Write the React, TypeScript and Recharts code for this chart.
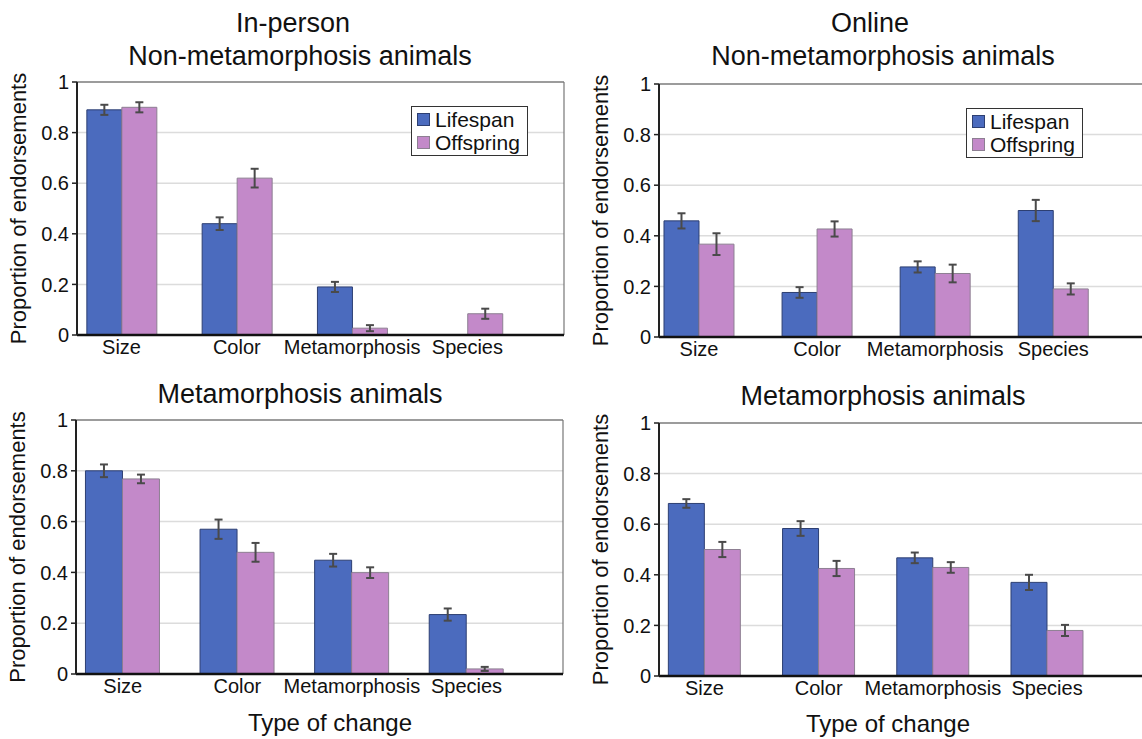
import React from "react";
import {
  BarChart,
  Bar,
  XAxis,
  YAxis,
  CartesianGrid,
  ErrorBar,
  ReferenceLine,
  Legend,
} from "recharts";

const categories = ["Size", "Color", "Metamorphosis", "Species"];
const yTicks = [0, 0.2, 0.4, 0.6, 0.8, 1];
const seriesNames = ["Lifespan", "Offspring"];

// In-person, non-metamorphosis animals
const inPersonNonMetaLifespan = [0.89, 0.44, 0.19, null];
const inPersonNonMetaLifespanErr = [0.02, 0.025, 0.02, null];
const inPersonNonMetaOffspring = [0.9, 0.62, 0.027, 0.084];
const inPersonNonMetaOffspringErr = [0.02, 0.037, 0.012, 0.02];

// Online, non-metamorphosis animals
const onlineNonMetaLifespan = [0.459, 0.176, 0.277, 0.5];
const onlineNonMetaLifespanErr = [0.03, 0.021, 0.022, 0.042];
const onlineNonMetaOffspring = [0.367, 0.427, 0.251, 0.19];
const onlineNonMetaOffspringErr = [0.043, 0.03, 0.035, 0.022];

// In-person, metamorphosis animals
const inPersonMetaLifespan = [0.8, 0.57, 0.448, 0.234];
const inPersonMetaLifespanErr = [0.025, 0.038, 0.025, 0.024];
const inPersonMetaOffspring = [0.768, 0.479, 0.399, 0.02];
const inPersonMetaOffspringErr = [0.017, 0.037, 0.021, 0.008];

// Online, metamorphosis animals
const onlineMetaLifespan = [0.682, 0.583, 0.467, 0.37];
const onlineMetaLifespanErr = [0.017, 0.029, 0.021, 0.03];
const onlineMetaOffspring = [0.5, 0.425, 0.429, 0.18];
const onlineMetaOffspringErr = [0.03, 0.03, 0.021, 0.022];

const FONT = '"Liberation Sans", Arial, Helvetica, sans-serif';
const BLUE = "#4b6bbe";
const BLUE_EDGE = "#2d3f72";
const PURPLE = "#c389c9";
const PURPLE_EDGE = "#8d7f92";
const ERR = "#4a4a4a";
const INK = "#111";

function buildRows(
  life: (number | null)[],
  lifeErr: (number | null)[],
  off: (number | null)[],
  offErr: (number | null)[]
) {
  return categories.map((name, i) => ({
    pos: i,
    name,
    lifespan: life[i],
    lifespanErr: lifeErr[i],
    offspring: off[i],
    offspringErr: offErr[i],
  }));
}

function LegendBox() {
  return (
    <div
      style={{
        border: "1.5px solid #333",
        background: "#fff",
        padding: "1px 7px 1px 5px",
        fontFamily: FONT,
        fontSize: 21,
        color: INK,
        lineHeight: "23px",
        whiteSpace: "nowrap",
      }}
    >
      {seriesNames.map((n, i) => (
        <div key={n} style={{ display: "flex", alignItems: "center" }}>
          <span
            style={{
              display: "inline-block",
              width: 13,
              height: 13,
              boxSizing: "border-box",
              background: i === 0 ? BLUE : PURPLE,
              border: `1px solid ${i === 0 ? BLUE_EDGE : PURPLE_EDGE}`,
              marginRight: 5,
            }}
          />
          {n}
        </div>
      ))}
    </div>
  );
}

type PanelProps = {
  left: number;
  axisX: number;
  plotTop: number;
  plotBottom: number;
  xMin: number;
  xMax: number;
  barSize: number;
  rows: ReturnType<typeof buildRows>;
  legend?: { left: number; top: number };
};

const PLOT_W = 487;
const M_TOP = 20;
const M_RIGHT = 20;
const X_AXIS_H = 45;

function Panel({ left, axisX, plotTop, plotBottom, xMin, xMax, barSize, rows, legend }: PanelProps) {
  const yAxisW = axisX - left;
  const width = yAxisW + PLOT_W + M_RIGHT;
  const height = M_TOP + (plotBottom - plotTop) + X_AXIS_H;
  return (
    <div style={{ position: "absolute", left, top: plotTop - M_TOP }}>
      <BarChart
        width={width}
        height={height}
        data={rows}
        margin={{ top: M_TOP, right: M_RIGHT, bottom: 0, left: 0 }}
        barGap={0}
      >
        <CartesianGrid vertical={false} stroke="#dcdcdc" strokeWidth={1.5} />
        <XAxis
          dataKey="pos"
          type="number"
          domain={[xMin, xMax]}
          ticks={[0, 1, 2, 3]}
          interval={0}
          tickFormatter={(i: number) => categories[i]}
          tickLine={false}
          tickSize={0}
          tickMargin={5}
          height={X_AXIS_H}
          axisLine={{ stroke: INK, strokeWidth: 2.5 }}
          tick={{ fontSize: 20, fill: INK, fontFamily: FONT }}
        />
        <YAxis
          domain={[0, 1]}
          ticks={yTicks}
          width={yAxisW}
          tickSize={5}
          tickMargin={3}
          axisLine={{ stroke: "#222", strokeWidth: 2 }}
          tickLine={{ stroke: "#222", strokeWidth: 1.5 }}
          tick={{ fontSize: 20, fill: INK, fontFamily: FONT }}
          label={{
            value: "Proportion of endorsements",
            angle: -90,
            position: "insideLeft",
            offset: yAxisW - 59,
            style: { textAnchor: "middle", fontSize: 22, fill: INK, fontFamily: FONT },
          }}
        />
        <ReferenceLine y={1} stroke="#555" strokeWidth={1.2} />
        <ReferenceLine x={xMax} stroke="#777" strokeWidth={1.2} />
        <Bar
          dataKey="lifespan"
          name="Lifespan"
          fill={BLUE}
          stroke={BLUE_EDGE}
          strokeWidth={1}
          barSize={barSize}
          isAnimationActive={false}
        >
          <ErrorBar dataKey="lifespanErr" width={4} stroke={ERR} strokeWidth={2} direction="y" />
        </Bar>
        <Bar
          dataKey="offspring"
          name="Offspring"
          fill={PURPLE}
          stroke={PURPLE_EDGE}
          strokeWidth={1}
          barSize={barSize}
          isAnimationActive={false}
        >
          <ErrorBar dataKey="offspringErr" width={4} stroke={ERR} strokeWidth={2} direction="y" />
        </Bar>
        {legend && (
          <Legend
            layout="vertical"
            align="center"
            verticalAlign="middle"
            wrapperStyle={{ left: legend.left, top: legend.top, width: "auto" }}
            content={() => <LegendBox />}
          />
        )}
      </BarChart>
    </div>
  );
}

function Title({ text, cx, baseline, size = 27 }: { text: string; cx: number; baseline: number; size?: number }) {
  return (
    <div
      style={{
        position: "absolute",
        left: cx - 300,
        width: 600,
        top: baseline - 0.8465 * size,
        textAlign: "center",
        fontFamily: FONT,
        fontSize: size,
        lineHeight: `${size}px`,
        color: INK,
        whiteSpace: "nowrap",
      }}
    >
      {text}
    </div>
  );
}

export default function App() {
  return (
    <div
      style={{
        position: "absolute",
        left: 0,
        top: 0,
        width: 1142,
        height: 739,
        overflow: "hidden",
        background: "#fff",
      }}
    >
      <Title text="In-person" cx={293} baseline={33} />
      <Title text="Online" cx={870} baseline={33} />
      <Title text="Non-metamorphosis animals" cx={300} baseline={66} />
      <Title text="Non-metamorphosis animals" cx={883} baseline={66} />
      <Title text="Metamorphosis animals" cx={300} baseline={404} />
      <Title text="Metamorphosis animals" cx={883} baseline={406} />

      <Panel
        left={0}
        axisX={77}
        plotTop={82}
        plotBottom={335}
        xMin={-0.386}
        xMax={3.838}
        barSize={35}
        rows={buildRows(
          inPersonNonMetaLifespan,
          inPersonNonMetaLifespanErr,
          inPersonNonMetaOffspring,
          inPersonNonMetaOffspringErr
        )}
        legend={{ left: 411, top: 44 }}
      />
      <Panel
        left={580}
        axisX={659}
        plotTop={84}
        plotBottom={337}
        xMin={-0.339}
        xMax={3.785}
        barSize={35}
        rows={buildRows(
          onlineNonMetaLifespan,
          onlineNonMetaLifespanErr,
          onlineNonMetaOffspring,
          onlineNonMetaOffspringErr
        )}
        legend={{ left: 386, top: 44 }}
      />
      <Panel
        left={0}
        axisX={76}
        plotTop={420}
        plotBottom={674}
        xMin={-0.408}
        xMax={3.842}
        barSize={37}
        rows={buildRows(
          inPersonMetaLifespan,
          inPersonMetaLifespanErr,
          inPersonMetaOffspring,
          inPersonMetaOffspringErr
        )}
      />
      <Panel
        left={580}
        axisX={659}
        plotTop={423}
        plotBottom={676}
        xMin={-0.398}
        xMax={3.866}
        barSize={36}
        rows={buildRows(
          onlineMetaLifespan,
          onlineMetaLifespanErr,
          onlineMetaOffspring,
          onlineMetaOffspringErr
        )}
      />

      <Title text="Type of change" cx={330} baseline={731} size={24} />
      <Title text="Type of change" cx={888} baseline={732} size={24} />
    </div>
  );
}
